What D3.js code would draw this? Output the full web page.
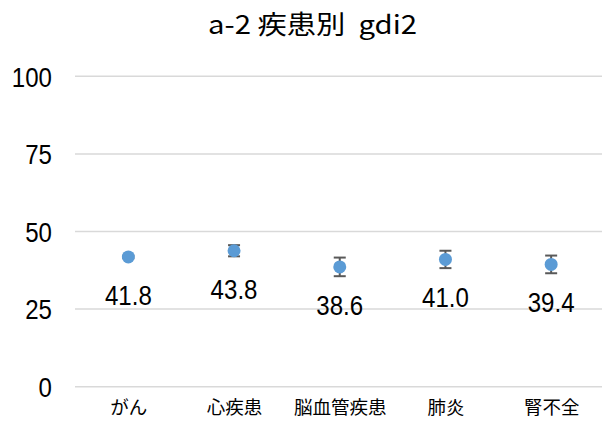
<!DOCTYPE html>
<html><head><meta charset="utf-8">
<script src="https://cdn.jsdelivr.net/npm/d3@7/dist/d3.min.js"></script>
<style>
html,body{margin:0;padding:0;background:#fff;}
svg{display:block;}
</style>
</head><body>
<svg id="c" width="602" height="421"></svg>
<script>
const title = "a-2 疾患別\u00a0\u00a0gdi2";
const categories = ["がん", "心疾患", "脳血管疾患", "肺炎", "腎不全"];
const values = [41.8, 43.8, 38.6, 41.0, 39.4];
const errors = [0.4, 1.8, 3.0, 2.8, 2.85];
const yTicks = [0, 25, 50, 75, 100];

const svg = d3.select("#c");
const numFont = "'Liberation Sans',Arial,sans-serif";
const cjkFont = "'Noto Sans CJK JP','Noto Sans',sans-serif";
const narrow = 0.86;

const y = d3.scaleLinear().domain([0, 100]).range([386.7, 76.3]);
const x = d3.scalePoint().domain(categories).range([75.5, 604]).padding(0.5);

// title
svg.append("text").attr("x", 208).attr("y", 34)
  .attr("textLength", 209).attr("lengthAdjust", "spacingAndGlyphs")
  .attr("font-family", cjkFont)
  .attr("font-size", 26).attr("fill", "#000").text(title);

// gridlines
svg.append("g").selectAll("line").data(yTicks).join("line")
  .attr("x1", 75).attr("x2", 602)
  .attr("y1", d => y(d)).attr("y2", d => y(d))
  .attr("stroke", "#d9d9d9").attr("stroke-width", 1.5);

// y axis labels
const yAxis = d3.axisLeft(y).tickValues(yTicks).tickSize(0).tickPadding(0);
const gy = svg.append("g").attr("transform", "translate(52,0)").call(yAxis);
gy.select(".domain").remove();
gy.selectAll("text").attr("font-family", numFont).attr("font-size", 28)
  .attr("fill", "#000").attr("dy", "0.35em")
  .attr("transform", `scale(${narrow},1)`);

// x axis labels
const xAxis = d3.axisBottom(x).tickSize(0).tickPadding(0);
const gx = svg.append("g").attr("transform", "translate(0,401)").call(xAxis);
gx.select(".domain").remove();
gx.selectAll("text").attr("font-family", cjkFont).attr("font-size", 18.5)
  .attr("fill", "#000").attr("dy", "0.71em");

const data = categories.map((c, i) => ({c, v: values[i], e: errors[i]}));

// error bars
const eb = svg.append("g").selectAll("g").data(data).join("g")
  .attr("stroke", "#595959").attr("stroke-width", 2);
eb.append("line").attr("x1", d => x(d.c)).attr("x2", d => x(d.c))
  .attr("y1", d => y(d.v + d.e)).attr("y2", d => y(d.v - d.e));
eb.append("line").attr("x1", d => x(d.c) - 6).attr("x2", d => x(d.c) + 6)
  .attr("y1", d => y(d.v + d.e)).attr("y2", d => y(d.v + d.e));
eb.append("line").attr("x1", d => x(d.c) - 6).attr("x2", d => x(d.c) + 6)
  .attr("y1", d => y(d.v - d.e)).attr("y2", d => y(d.v - d.e));

// points
svg.append("g").selectAll("circle").data(data).join("circle")
  .attr("cx", d => x(d.c)).attr("cy", d => y(d.v)).attr("r", 6.5)
  .attr("fill", "#5b9bd5");

// data labels
svg.append("g").selectAll("text").data(data).join("text")
  .attr("transform", d => `translate(${x(d.c)},${y(d.v) + 48}) scale(${narrow},1)`)
  .attr("text-anchor", "middle").attr("font-family", numFont)
  .attr("font-size", 28).attr("fill", "#000")
  .text(d => d.v.toFixed(1));
</script>
</body></html>
